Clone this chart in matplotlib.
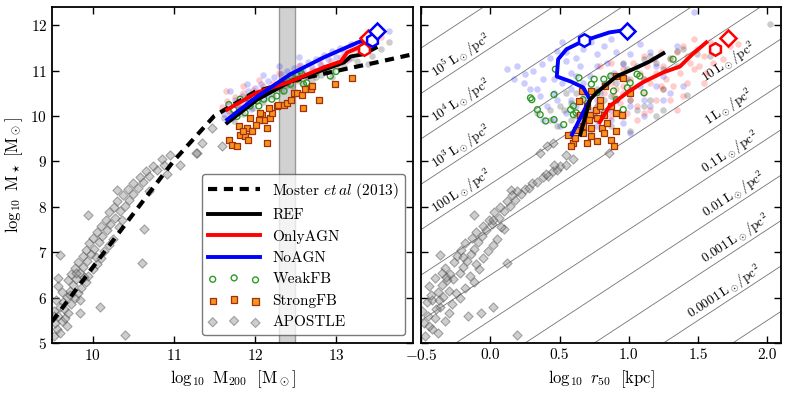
import numpy as np
from matplotlib import pyplot as plt

plt.rcParams['font.family'] = 'cmr10'
plt.rcParams['mathtext.fontset'] = 'cm'
plt.rcParams['axes.formatter.use_mathtext'] = True
plt.rcParams['font.size'] = 11

# Moster et al (2013) relation
moster_m200 = [9.5, 10.0, 10.5, 11.0, 11.5, 12.0, 12.5, 13.0, 13.5, 13.95]
moster_mstar = [5.47, 6.66, 7.84, 9.01, 10.0, 10.53, 10.79, 10.99, 11.18, 11.36]

# median lines, left panel (log M200, log M*)
ref_m200 = [11.66, 12.03, 12.44, 12.85, 13.1, 13.18, 13.34, 13.49]
ref_mstar = [9.85, 10.36, 10.76, 11.02, 11.18, 11.31, 11.36, 11.5]
agn_m200 = [11.66, 12.03, 12.44, 12.85, 13.06, 13.14, 13.27, 13.34]
agn_mstar = [10.14, 10.52, 10.76, 11.07, 11.2, 11.4, 11.5, 11.58]
noagn_m200 = [11.66, 12.03, 12.44, 12.85, 13.27, 13.39]
noagn_mstar = [9.92, 10.43, 10.92, 11.29, 11.62, 11.69]

# median lines, right panel (log r50, log M*)
ref_r50 = [0.65, 0.72, 0.77, 0.91, 1.06, 1.15, 1.25]
ref_mstar_r = [9.59, 10.36, 10.52, 10.87, 11.07, 11.2, 11.38]
agn_r50 = [0.79, 0.86, 0.99, 1.1, 1.25, 1.37, 1.46, 1.56]
agn_mstar_r = [9.86, 10.21, 10.52, 10.74, 10.96, 11.09, 11.36, 11.62]
noagn_r50 = [0.59, 0.67, 0.72, 0.67, 0.58, 0.48, 0.49, 0.55, 0.67, 0.86, 0.97]
noagn_mstar_r = [9.59, 10.08, 10.36, 10.63, 10.76, 10.87, 11.25, 11.47, 11.65, 11.84, 11.89]

# open end markers (hexagon, diamond) per model: (left x, right x, y)
agn_hex = (13.35, 1.62, 11.47)
agn_dia = (13.39, 1.72, 11.72)
noagn_hex = (13.45, 0.68, 11.67)
noagn_dia = (13.5, 0.99, 11.87)

# APOSTLE galaxies
apostle_m200 = [9.52, 9.56, 9.60, 9.54, 9.62, 9.58, 9.66, 9.52, 9.70, 9.60, 9.64, 9.74, 9.55,
                9.68, 9.78, 9.62, 9.72, 9.82, 9.58, 9.76, 9.86, 9.70, 9.80, 9.92, 9.57, 9.74,
                9.84, 9.95, 9.78, 9.88, 10.00, 9.82, 9.93, 10.05, 9.60, 9.88, 9.98, 10.10, 9.92,
                10.02, 10.14, 9.96, 10.08, 10.20, 10.00, 10.12, 10.25, 10.06, 10.18, 10.63, 10.10,
                10.22, 10.32, 9.95, 10.16, 10.28, 10.20, 10.34, 10.26, 10.40, 10.30, 10.45, 10.30,
                10.38, 10.50, 10.44, 10.56, 10.50, 10.62, 10.58, 10.70, 10.66, 10.80, 10.74, 10.88,
                10.96, 11.08, 11.29, 10.85, 10.92, 10.40, 10.09, 10.61, 9.85, 11.47, 11.35, 11.27,
                11.60, 9.53, 9.65, 9.72, 9.90, 9.84, 10.04, 10.36, 10.70, 9.68, 9.80]
apostle_mstar = [5.15, 5.30, 5.22, 5.45, 5.48, 5.60, 5.55, 5.70, 5.65, 5.80, 5.90, 5.85, 5.95,
                 6.02, 6.00, 6.12, 6.15, 6.10, 6.25, 6.28, 6.22, 6.38, 6.40, 6.35, 6.43, 6.52,
                 6.55, 6.48, 6.65, 6.68, 6.62, 6.78, 6.80, 6.75, 6.94, 6.92, 6.95, 6.88, 7.05,
                 7.08, 7.02, 7.20, 7.22, 7.15, 7.32, 7.35, 7.30, 7.45, 7.48, 7.50, 7.58,
                 7.62, 7.55, 7.83, 7.72, 7.75, 7.88, 7.90, 8.00, 8.02, 8.12, 8.15, 8.38,
                 8.25, 8.28, 8.40, 8.42, 8.52, 8.55, 8.65, 8.68, 8.78, 8.80, 8.90, 8.92,
                 9.15, 8.93, 9.19, 9.05, 8.72, 5.18, 5.80, 6.77, 5.66, 9.74, 9.41, 9.19,
                 9.33, 5.60, 5.75, 6.05, 6.45, 5.95, 6.90, 7.70, 8.35, 5.38, 6.55]
apostle_r50 = [-0.47, -0.42, -0.38, -0.48, -0.33, -0.45, -0.40, -0.49, -0.30, -0.36, -0.46, -0.28, -0.42,
               -0.34, -0.22, -0.38, -0.30, -0.25, -0.44, -0.35, -0.18, -0.31, -0.27, -0.12, -0.40, -0.29,
               -0.22, -0.15, -0.33, -0.20, -0.08, -0.26, -0.17, -0.10, -0.36, -0.24, -0.14, -0.05, -0.21,
               -0.12, -0.02, -0.18, -0.09, 0.02, -0.13, -0.06, 0.05, -0.10, -0.03, 0.10, -0.05,
               0.01, 0.08, -0.12, -0.01, 0.06, 0.03, 0.10, 0.07, 0.14, 0.12, 0.18, 0.15,
               0.16, 0.22, 0.25, 0.28, 0.30, 0.34, 0.38, 0.42, 0.45, 0.48, 0.50, 0.55,
               0.55, 0.46, 0.86, 0.60, 0.40, 0.19, 0.02, 0.12, -0.07, 0.65, 0.45, 0.36,
               0.41, -0.16, -0.39, -0.43, -0.32, -0.37, -0.20, 0.02, 0.19, -0.44, -0.35]

# StrongFB
strong_m200 = [11.68, 11.72, 11.78, 11.82, 11.80, 11.88, 11.90, 11.92, 11.94, 11.97, 11.86, 12.15,
               12.15, 12.09, 12.11, 12.19, 12.21, 12.27, 12.29, 12.36, 12.40, 12.44, 12.48, 12.52,
               12.58, 12.60, 12.62, 12.69, 12.71, 12.79, 12.99, 13.20, 12.05, 12.07, 12.17, 12.01]
strong_mstar = [9.48, 9.37, 9.33, 9.59, 9.78, 9.56, 9.74, 9.48, 9.96, 9.66, 9.66, 9.41,
                9.74, 10.03, 9.92, 9.96, 10.07, 10.22, 10.25, 10.25, 10.29, 10.36, 10.51, 10.51,
                10.47, 10.18, 10.59, 10.59, 10.66, 10.36, 10.70, 10.84, 9.92, 10.07, 10.18, 9.81]
strong_r50 = [0.56, 0.60, 0.58, 0.61, 0.67, 0.70, 0.73, 0.77, 0.81, 0.82, 0.87, 0.89, 0.91, 0.84,
              0.77, 0.72, 0.70, 0.64, 0.66, 0.73, 0.79, 0.83, 0.87, 0.91, 0.96, 0.91, 1.01, 0.95,
              0.65, 0.76, 0.79, 0.71, 0.73, 0.67, 0.62, 0.82]
strong_mstar_r = [9.59, 9.41, 9.33, 9.52, 9.63, 9.41, 9.56, 9.44, 9.74, 9.63, 9.48, 9.33, 9.67, 9.85,
                  9.96, 10.03, 10.22, 10.33, 10.55, 10.55, 10.36, 10.66, 10.22, 10.07, 10.84, 10.88, 10.51, 10.03,
                  10.03, 10.14, 10.22, 9.92, 9.74, 9.78, 9.70, 10.03]

# WeakFB
weak_m200 = [11.68, 11.74, 11.82, 11.92, 11.94, 12.03, 12.05, 12.11, 12.21, 12.27, 12.36, 12.44, 12.52,
             12.58, 12.60, 12.64, 12.44, 12.52, 12.93, 11.78, 11.88, 12.23, 12.40, 12.56, 13.00, 12.75]
weak_mstar = [10.25, 10.14, 10.37, 10.40, 10.22, 10.33, 10.22, 10.37, 10.37, 10.44, 10.55, 10.70, 10.81,
              10.92, 10.70, 10.73, 10.88, 10.92, 10.88, 9.99, 10.07, 10.59, 10.73, 10.99, 10.98, 10.95]
weak_r50 = [0.47, 0.29, 0.30, 0.34, 0.36, 0.40, 0.46, 0.46, 0.53, 0.64, 0.60, 0.62, 0.67, 0.73, 0.77,
            0.82, 0.87, 0.89, 0.91, 0.96, 0.99, 1.01, 1.06, 1.08, 1.11, 1.32, 0.75, 0.58, 0.60]
weak_mstar_r = [11.03, 10.40, 10.36, 10.14, 10.03, 9.89, 9.92, 10.47, 9.81, 10.84, 10.22, 10.07, 10.36,
                10.70, 10.51, 10.81, 10.88, 10.55, 10.36, 10.14, 10.62, 10.73, 10.92, 10.88, 10.51, 11.25,
                10.81, 10.14, 10.03]

# individual galaxies of the three main runs, left panel
noagn_pts_m200 = [11.62, 11.68, 11.72, 11.76, 11.80, 11.84, 11.88, 11.92, 11.96, 12.00, 12.04, 12.08, 12.12,
                  12.16, 12.20, 12.24, 12.28, 12.32, 12.36, 12.40, 12.44, 12.48, 12.52, 12.56, 12.60, 12.65,
                  12.70, 12.75, 12.80, 12.85, 12.90, 12.95, 13.00, 13.05, 13.10, 13.18, 13.25, 13.32, 13.40,
                  13.50, 13.65, 11.70, 11.90, 12.10, 12.30, 12.55, 12.15, 11.95, 12.38, 12.62, 13.15, 12.85]
noagn_pts_mstar = [10.05, 10.25, 9.95, 10.35, 10.15, 10.45, 10.28, 10.55, 10.35, 10.62, 10.48, 10.70, 10.55,
                   10.78, 10.62, 10.85, 10.70, 10.92, 10.80, 11.00, 10.85, 11.05, 10.95, 11.12, 11.00, 11.18,
                   11.08, 11.25, 11.15, 11.35, 11.25, 11.42, 11.30, 11.50, 11.40, 11.58, 11.50, 11.72, 11.62,
                   11.78, 11.87, 10.55, 10.70, 10.90, 11.10, 11.30, 10.40, 10.15, 10.65, 10.85, 11.25, 11.05]
agn_pts_m200 = [11.60, 11.66, 11.70, 11.75, 11.80, 11.86, 11.92, 11.98, 12.04, 12.10, 12.16, 12.22, 12.28,
                12.34, 12.40, 12.46, 12.52, 12.58, 12.64, 12.70, 12.76, 12.82, 12.88, 12.94, 13.00, 13.06,
                13.12, 13.20, 13.28, 13.36, 13.45, 13.55, 11.65, 11.85, 12.05, 12.30, 12.55, 12.80]
agn_pts_mstar = [10.20, 10.32, 10.05, 10.42, 10.25, 10.50, 10.35, 10.58, 10.45, 10.65, 10.55, 10.72, 10.62,
                 10.80, 10.70, 10.88, 10.78, 10.95, 10.85, 11.02, 10.95, 11.12, 11.02, 11.20, 11.10, 11.30,
                 11.22, 11.45, 11.38, 11.60, 11.52, 11.75, 10.55, 10.65, 10.80, 10.95, 11.10, 11.25]
ref_pts_m200 = [11.62, 11.68, 11.74, 11.80, 11.86, 11.92, 11.98, 12.04, 12.10, 12.16, 12.22, 12.28, 12.34,
                12.40, 12.46, 12.52, 12.58, 12.64, 12.70, 12.76, 12.82, 12.88, 12.95, 13.02, 13.10, 13.18,
                13.26, 13.35, 13.45, 13.55, 13.65, 12.95, 12.75, 13.40]
ref_pts_mstar = [9.95, 10.10, 9.90, 10.20, 10.05, 10.30, 10.18, 10.42, 10.30, 10.52, 10.45, 10.62, 10.55,
                 10.75, 10.65, 10.82, 10.72, 10.88, 10.80, 10.98, 10.90, 11.05, 10.98, 11.15, 11.08, 11.28,
                 11.20, 11.40, 11.32, 11.48, 11.62, 10.85, 10.85, 11.15]

# individual galaxies of the three main runs, right panel
noagn_pts_r50 = [0.12, 0.19, 0.25, 0.31, 0.37, 0.38, 0.43, 0.48, 0.52, 0.55, 0.58, 0.62, 0.67, 0.73, 0.77,
                 0.82, 0.87, 0.91, 0.96, 1.01, 1.08, 1.15, 1.20, 1.25, 1.35, 1.47, 1.39, 1.11, 1.01, 0.96,
                 0.87, 0.77, 0.67, 0.62, 0.55, 0.50, 0.46, 0.41, 0.36, 0.29, 0.24, 0.17, 0.58, 0.72, 0.82,
                 0.89, 0.62, 0.52, 0.46, 0.75, 0.87, 1.08, 1.15, 1.25, 0.58, 0.67, 0.77, 0.91, 0.99, 0.46,
                 0.55, 0.65, 0.77, 0.84, 1.01, 1.11, 1.30, 1.20, 0.48, 0.38, 0.34, 0.67, 0.79]
noagn_pts_mstar_r = [11.03, 11.10, 10.92, 10.99, 11.14, 10.81, 11.28, 11.43, 11.62, 11.21, 10.95, 11.28, 11.47,
                     11.62, 11.36, 11.54, 11.69, 11.40, 11.14, 11.36, 11.58, 11.40, 11.10, 10.88, 11.54, 12.30,
                     10.66, 10.36, 10.22, 9.85, 9.92, 10.36, 10.51, 10.22, 10.07, 9.78, 9.92, 10.22, 10.44,
                     10.59, 10.73, 10.81, 10.59, 10.88, 10.73, 10.95, 10.88, 10.73, 10.51, 9.99, 10.14, 10.66,
                     10.22, 10.36, 10.36, 9.92, 9.78, 10.36, 10.81, 10.81, 11.40, 11.10, 11.10, 11.17, 9.63,
                     9.99, 10.51, 10.66, 10.36, 9.92, 10.59, 10.73, 10.51]
agn_pts_r50 = [0.79, 0.87, 0.91, 0.96, 1.01, 1.06, 1.11, 1.15, 1.20, 1.25, 1.30, 1.35, 1.39, 1.44, 1.49,
               1.54, 1.59, 1.64, 1.68, 1.73, 1.79, 1.35, 1.30, 1.25, 1.20, 1.15, 1.11, 1.06, 0.99, 0.94,
               0.89, 0.84, 0.91, 1.01, 1.08, 1.13, 1.18, 1.23, 1.27, 1.32, 1.37, 1.42, 1.47, 1.51, 1.56,
               1.42, 1.47, 1.11, 1.03, 0.96, 0.87, 0.82, 0.77, 1.11, 1.23, 0.96, 0.87, 1.39, 1.54, 1.61]
agn_pts_mstar_r = [11.10, 11.17, 10.88, 10.66, 10.36, 10.22, 10.51, 10.73, 10.95, 11.10, 11.25, 11.40, 11.54,
                   11.17, 11.47, 11.32, 11.62, 11.47, 11.25, 11.54, 11.58, 10.14, 10.36, 10.59, 10.36, 10.14,
                   10.07, 9.92, 10.07, 10.29, 10.44, 10.14, 10.59, 10.81, 10.95, 11.10, 11.25, 11.40, 10.81,
                   10.66, 10.95, 10.73, 11.03, 11.10, 10.95, 11.32, 11.69, 11.32, 11.17, 11.03, 10.73, 10.51,
                   10.22, 10.81, 10.66, 10.51, 9.99, 10.44, 10.73, 11.17]
ref_pts_r50 = [0.34, 0.43, 0.48, 0.53, 0.58, 0.62, 0.67, 0.72, 0.77, 0.82, 0.87, 0.96, 1.01, 1.11, 1.15,
               1.20, 1.25, 1.11, 1.06, 1.11, 1.15, 1.20, 1.25, 1.30, 1.35, 1.39, 1.42, 0.99, 0.91, 0.87,
               0.77, 0.67, 0.62, 0.55, 0.50, 0.43, 0.58, 0.77, 0.91, 1.01, 1.06, 1.25, 1.35, 1.49, 2.02,
               0.87, 0.72, 0.82, 0.96, 1.01, 1.59, 0.62, 0.96]
ref_pts_mstar_r = [10.07, 9.92, 9.78, 10.14, 10.29, 9.99, 9.85, 9.70, 9.92, 10.07, 9.78, 9.99, 9.67, 10.22,
                   10.36, 9.99, 10.14, 10.81, 11.10, 11.25, 11.32, 11.17, 11.03, 11.28, 11.43, 11.47, 10.47,
                   11.03, 10.73, 10.88, 10.59, 10.36, 10.51, 10.51, 10.22, 10.14, 9.92, 10.22, 10.36, 10.59,
                   10.14, 10.59, 11.10, 11.36, 12.02, 10.44, 10.14, 10.36, 10.88, 10.36, 11.32, 9.70, 11.17]

# surface density lines: log M* = log(pi) + 6 + log(Sigma) + 2 log r50
sigma_exp = np.arange(-5, 7)
sigma_labels = {5: r'$10^5\,\mathrm{L}_\odot/\mathrm{pc}^2$', 4: r'$10^4\,\mathrm{L}_\odot/\mathrm{pc}^2$',
                3: r'$10^3\,\mathrm{L}_\odot/\mathrm{pc}^2$', 2: r'$100\,\mathrm{L}_\odot/\mathrm{pc}^2$',
                1: r'$10\,\mathrm{L}_\odot/\mathrm{pc}^2$', 0: r'$1\,\mathrm{L}_\odot/\mathrm{pc}^2$',
                -1: r'$0.1\,\mathrm{L}_\odot/\mathrm{pc}^2$', -2: r'$0.01\,\mathrm{L}_\odot/\mathrm{pc}^2$',
                -3: r'$0.001\,\mathrm{L}_\odot/\mathrm{pc}^2$', -4: r'$0.0001\,\mathrm{L}_\odot/\mathrm{pc}^2$'}
label_r50 = {5: -0.17, 4: -0.17, 3: -0.17, 2: -0.17, 1: 1.76, 0: 1.76, -1: 1.77, -2: 1.80, -3: 1.81, -4: 1.73}

fig = plt.figure(figsize=(7.9, 3.93), dpi=100)
ax1 = fig.add_axes([0.0658, 0.1272, 0.4570, 0.855])
ax2 = fig.add_axes([0.5330, 0.1272, 0.4557, 0.855])

dot = dict(s=22, alpha=0.2, linewidths=0)

for ax in (ax1, ax2):
    for sp in ax.spines.values():
        sp.set_linewidth(1.3)
    ax.tick_params(direction='in', top=True, right=True, length=5, width=1, labelsize=11)

# ---- left panel
ax1.axvspan(12.3, 12.5, facecolor='0.82', edgecolor='0.6', lw=1, zorder=0.5)
ax1.scatter(apostle_m200, apostle_mstar, marker='D', s=22, c='0.55', edgecolors='0.25',
            linewidths=0.8, alpha=0.42, zorder=2, label='APOSTLE')
ax1.scatter(noagn_pts_m200, noagn_pts_mstar, c='b', zorder=1, **dot)
ax1.scatter(agn_pts_m200, agn_pts_mstar, c='r', zorder=1, **dot)
ax1.scatter(ref_pts_m200, ref_pts_mstar, c='k', zorder=1, **dot)
ax1.scatter(weak_m200, weak_mstar, marker='o', s=18, facecolors='none', edgecolors='#2f9a25',
            linewidths=1.0, zorder=3, label='WeakFB')
ax1.scatter(strong_m200, strong_mstar, marker='s', s=20, c='#f7941d', edgecolors='#a3300c',
            linewidths=0.9, zorder=3, label='StrongFB')
ax1.plot(moster_m200, moster_mstar, 'k--', lw=3, dashes=(2.2, 1.6), zorder=4,
         label=r'Moster $et\,al$ (2013)')
ax1.plot(ref_m200, ref_mstar, 'k-', lw=2.8, zorder=5, label='REF')
ax1.plot(agn_m200, agn_mstar, 'r-', lw=2.8, zorder=5, label='OnlyAGN')
ax1.plot(noagn_m200, noagn_mstar, 'b-', lw=2.8, zorder=5, label='NoAGN')
for m, col, p in (('h', 'r', agn_hex), ('D', 'r', agn_dia), ('h', 'b', noagn_hex), ('D', 'b', noagn_dia)):
    ax1.plot(p[0], p[2], marker=m, ms=9 if m == 'h' else 8, mfc='white', mec=col, mew=1.8, zorder=6)

ax1.set_xlim(9.5, 13.95)
ax1.set_ylim(5, 12.4)
ax1.set_xticks([10, 11, 12, 13])
ax1.set_yticks(range(5, 13))
ax1.set_xlabel(r'$\log_{10}\ \mathrm{M}_{200}\ \ [\mathrm{M}_\odot]$', fontsize=12)
ax1.set_ylabel(r'$\log_{10}\ \mathrm{M}_\star\ [\mathrm{M}_\odot]$', fontsize=12)

h, l = ax1.get_legend_handles_labels()
order = [l.index(n) for n in [r'Moster $et\,al$ (2013)', 'REF', 'OnlyAGN', 'NoAGN',
                              'WeakFB', 'StrongFB', 'APOSTLE']]
leg = ax1.legend([h[i] for i in order], [l[i] for i in order], loc='lower right', fontsize=11,
                 handlelength=3.4, labelspacing=0.5, borderaxespad=0.5, scatterpoints=3,
                 scatteryoffsets=[0.375, 0.5, 0.3125], fancybox=True, framealpha=0.75,
                 edgecolor='0.3', handletextpad=0.8, borderpad=0.4)
leg.get_frame().set_linewidth(1.0)

# ---- right panel
ax2.set_xlim(-0.5, 2.1)
ax2.set_ylim(5, 12.4)
rr = np.array([-0.6, 2.2])
for k in sigma_exp:
    ax2.plot(rr, np.log10(np.pi) + 6 + k + 2 * rr, color='0.45', lw=0.6, zorder=0.5)

fig.canvas.draw()
p0 = ax2.transData.transform((0, 0))
p1 = ax2.transData.transform((1, 2))
ang = np.degrees(np.arctan2(p1[1] - p0[1], p1[0] - p0[0]))
for k, txt in sigma_labels.items():
    xc = label_r50[k]
    ax2.text(xc, np.log10(np.pi) + 6 + k + 2 * xc, txt, rotation=ang, rotation_mode='anchor',
             ha='center', va='bottom', fontsize=9.5, zorder=1)

ax2.scatter(apostle_r50, apostle_mstar, marker='D', s=22, c='0.55', edgecolors='0.25',
            linewidths=0.8, alpha=0.42, zorder=2)
ax2.scatter(noagn_pts_r50, noagn_pts_mstar_r, c='b', zorder=1, **dot)
ax2.scatter(agn_pts_r50, agn_pts_mstar_r, c='r', zorder=1, **dot)
ax2.scatter(ref_pts_r50, ref_pts_mstar_r, c='k', zorder=1, **dot)
ax2.scatter(weak_r50, weak_mstar_r, marker='o', s=18, facecolors='none', edgecolors='#2f9a25',
            linewidths=1.0, zorder=3)
ax2.scatter(strong_r50, strong_mstar_r, marker='s', s=20, c='#f7941d', edgecolors='#a3300c',
            linewidths=0.9, zorder=3)
ax2.plot(noagn_r50, noagn_mstar_r, 'b-', lw=2.8, zorder=5)
ax2.plot(ref_r50, ref_mstar_r, 'k-', lw=2.8, zorder=5)
ax2.plot(agn_r50, agn_mstar_r, 'r-', lw=2.8, zorder=5)
for m, col, p in (('h', 'r', agn_hex), ('D', 'r', agn_dia), ('h', 'b', noagn_hex), ('D', 'b', noagn_dia)):
    ax2.plot(p[1], p[2], marker=m, ms=9 if m == 'h' else 8, mfc='white', mec=col, mew=1.8, zorder=6)

ax2.set_xticks([-0.5, 0.0, 0.5, 1.0, 1.5, 2.0])
ax2.set_xticklabels(['$-0.5$', '0.0', '0.5', '1.0', '1.5', '2.0'])
ax2.set_yticks(range(5, 13))
ax2.set_yticklabels([])
ax2.set_xlabel(r'$\log_{10}\ r_{50}\ \ [\mathrm{kpc}]$', fontsize=12)

fig.savefig('out.png', dpi=100)
